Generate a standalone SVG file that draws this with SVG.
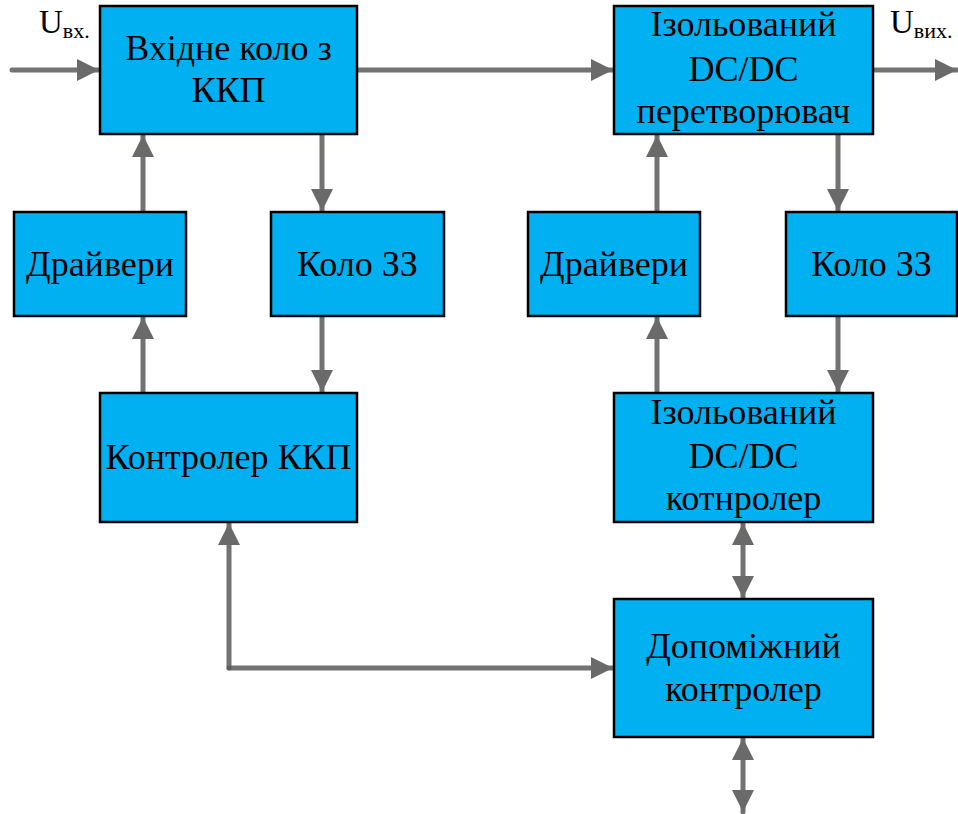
<svg xmlns="http://www.w3.org/2000/svg" width="958" height="814" viewBox="0 0 958 814">
<style>
.box{fill:#00B0F0;stroke:#000;stroke-width:2.5}
.t{font-size:36px;text-anchor:middle;fill:#000}
.c{stroke:#5a5a5a;stroke-opacity:0.85;stroke-width:5;fill:none;stroke-linecap:round}
</style>
<defs>
<marker id="ah" viewBox="0 0 10 10" refX="10" refY="5" markerWidth="4.6" markerHeight="4.4" markerUnits="strokeWidth" orient="auto-start-reverse">
<path d="M0,0 L10,5 L0,10 z" fill="#6a6a6a"/>
</marker>
</defs>
<g id="connectors">
<path class="c" d="M12,70 L99,70" marker-end="url(#ah)"/>
<path class="c" d="M358,70 L613,70" marker-end="url(#ah)"/>
<path class="c" d="M874,70 L957,70" marker-end="url(#ah)"/>
<path class="c" d="M143,212 L143,135" marker-end="url(#ah)"/>
<path class="c" d="M322,134 L322,211" marker-end="url(#ah)"/>
<path class="c" d="M143,393 L143,317" marker-end="url(#ah)"/>
<path class="c" d="M322,316 L322,392" marker-end="url(#ah)"/>
<path class="c" d="M229,668 L229,523" marker-end="url(#ah)"/>
<path class="c" d="M229,668 L613,668" marker-end="url(#ah)"/>
<path class="c" d="M657,212 L657,135" marker-end="url(#ah)"/>
<path class="c" d="M838,134 L838,211" marker-end="url(#ah)"/>
<path class="c" d="M657,393 L657,317" marker-end="url(#ah)"/>
<path class="c" d="M838,316 L838,392" marker-end="url(#ah)"/>
<path class="c" d="M743,523 L743,598" marker-start="url(#ah)" marker-end="url(#ah)"/>
<path class="c" d="M743,738 L743,812" marker-start="url(#ah)" marker-end="url(#ah)"/>
</g>
<g id="in-label">
<text x="39" y="33" font-family="Liberation Serif, serif" font-size="33">U<tspan font-size="22" dy="5">вх.</tspan></text>
</g>
<g id="out-label">
<text x="890" y="33" font-family="Liberation Serif, serif" font-size="33">U<tspan font-size="22" dy="5">вих.</tspan></text>
</g>
<g id="input-circuit" font-family="Liberation Serif, serif">
<rect class="box" x="100" y="6" width="257" height="128"/>
<text class="t" x="228.5" y="60">Вхідне коло з</text>
<text class="t" x="228.5" y="102">ККП</text>
</g>
<g id="dcdc-converter" font-family="Liberation Serif, serif">
<rect class="box" x="614" y="6" width="259" height="128"/>
<text class="t" x="743.5" y="36">Ізольований</text>
<text class="t" x="743.5" y="81">DC/DC</text>
<text class="t" x="743.5" y="123">перетворювач</text>
</g>
<g id="drivers-left" font-family="Liberation Serif, serif">
<rect class="box" x="14" y="212" width="172" height="104"/>
<text class="t" x="100" y="276">Драйвери</text>
</g>
<g id="protection-left" font-family="Liberation Serif, serif">
<rect class="box" x="271" y="212" width="173" height="104"/>
<text class="t" x="357.5" y="276">Коло ЗЗ</text>
</g>
<g id="drivers-right" font-family="Liberation Serif, serif">
<rect class="box" x="528" y="212" width="172" height="104"/>
<text class="t" x="614" y="276">Драйвери</text>
</g>
<g id="protection-right" font-family="Liberation Serif, serif">
<rect class="box" x="786" y="212" width="171" height="104"/>
<text class="t" x="871.5" y="276">Коло ЗЗ</text>
</g>
<g id="pfc-controller" font-family="Liberation Serif, serif">
<rect class="box" x="100" y="393" width="257" height="129"/>
<text class="t" x="228.5" y="469">Контролер ККП</text>
</g>
<g id="dcdc-controller" font-family="Liberation Serif, serif">
<rect class="box" x="614" y="393" width="259" height="129"/>
<text class="t" x="743.5" y="424">Ізольований</text>
<text class="t" x="743.5" y="468">DC/DC</text>
<text class="t" x="743.5" y="510">котнролер</text>
</g>
<g id="aux-controller" font-family="Liberation Serif, serif">
<rect class="box" x="614" y="599" width="259" height="138"/>
<text class="t" x="743.5" y="658">Допоміжний</text>
<text class="t" x="743.5" y="701">контролер</text>
</g>
</svg>
